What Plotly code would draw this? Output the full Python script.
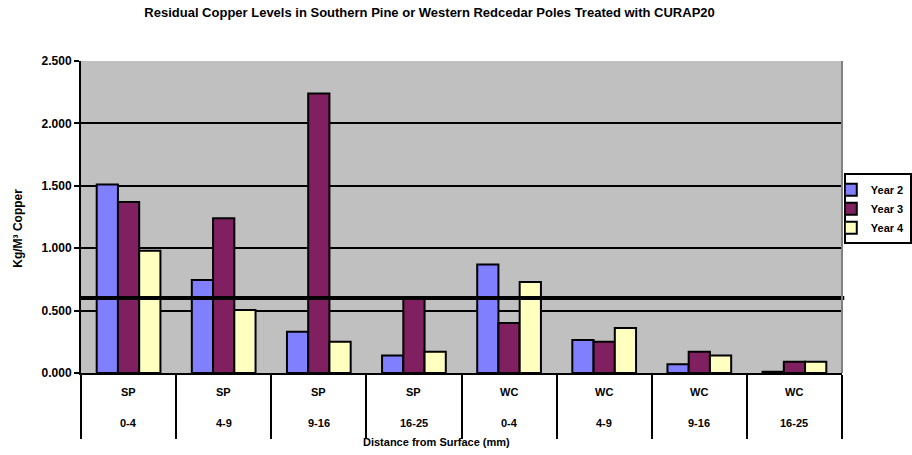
import plotly.graph_objects as go

species = ["SP", "SP", "SP", "SP", "WC", "WC", "WC", "WC"]
depths = ["0-4", "4-9", "9-16", "16-25", "0-4", "4-9", "9-16", "16-25"]
categories = [f"{s} {d}" for s, d in zip(species, depths)]

year2 = [1.51, 0.745, 0.33, 0.14, 0.87, 0.265, 0.07, 0.01]
year3 = [1.37, 1.24, 2.24, 0.60, 0.40, 0.25, 0.17, 0.09]
year4 = [0.98, 0.505, 0.25, 0.17, 0.73, 0.36, 0.14, 0.09]
threshold = 0.6

series_names = ["Year 2", "Year 3", "Year 4"]
series_values = [year2, year3, year4]
series_colors = ["#8080FF", "#802060", "#FFFFC0"]

y_ticks = [0, 0.5, 1.0, 1.5, 2.0, 2.5]

title_text = "Residual Copper Levels in Southern Pine or Western Redcedar Poles Treated with CURAP20"
x_title = "Distance from Surface (mm)"
y_title = "Kg/M\u00b3 Copper"

FONT = "Arial, Liberation Sans, sans-serif"

fig = go.Figure()
for name, vals, col in zip(series_names, series_values, series_colors):
    fig.add_trace(go.Bar(
        x=categories, y=vals, name=name,
        marker=dict(color=col, line=dict(color="black", width=2)),
    ))

fig.update_layout(
    width=912, height=455,
    margin=dict(l=81, r=70, t=61, b=82, autoexpand=False),
    paper_bgcolor="white", plot_bgcolor="#C0C0C0",
    barmode="group", bargap=0.33, bargroupgap=0,
    font=dict(family=FONT, size=11, color="black"),
    title=dict(text="<b>" + title_text + "</b>", x=0.471, xref="container",
               xanchor="center", y=0.972, yanchor="middle",
               font=dict(family=FONT, size=13, color="black")),
    showlegend=True,
    legend=dict(x=1.0917, xanchor="right", y=0.64, yanchor="top",
                bgcolor="white", bordercolor="black", borderwidth=2,
                font=dict(family=FONT, size=11, color="black", weight="bold"),
                itemwidth=30, indentation=-15),
)

fig.update_xaxes(
    type="category", categoryorder="array", categoryarray=categories,
    showticklabels=False, showgrid=False,
    ticks="outside", tickson="boundaries", ticklen=64, tickwidth=2, tickcolor="black",
    showline=True, linecolor="black", linewidth=2,
    range=[-0.5, len(categories) - 0.5],
)
fig.update_yaxes(
    range=[0, 2.5], tickvals=y_ticks, tickformat=".3f",
    showgrid=True, gridcolor="black", gridwidth=2,
    zeroline=False,
    ticks="outside", ticklen=5, tickwidth=2, tickcolor="black",
    showline=True, linecolor="black", linewidth=2,
    tickfont=dict(family=FONT, size=12, color="black", weight="bold"),
)

# threshold line
fig.add_shape(type="line", xref="paper", yref="y", x0=0, x1=1.003,
              y0=threshold, y1=threshold, line=dict(color="black", width=4))
# right border of plot area
fig.add_shape(type="line", xref="paper", yref="paper", x0=1, x1=1, y0=0, y1=1,
              line=dict(color="#808080", width=2))

annotations = []
for cat, s, d in zip(categories, species, depths):
    annotations.append(dict(x=cat, xref="x", y=-0.061, yref="paper", text="<b>" + s + "</b>",
                            showarrow=False, xanchor="center", yanchor="middle",
                            font=dict(family=FONT, size=11, color="black")))
    annotations.append(dict(x=cat, xref="x", y=-0.16, yref="paper", text="<b>" + d + "</b>",
                            showarrow=False, xanchor="center", yanchor="middle",
                            font=dict(family=FONT, size=11, color="black")))
annotations.append(dict(x=0.467, xref="paper", y=-0.221, yref="paper", text="<b>" + x_title + "</b>",
                        showarrow=False, xanchor="center", yanchor="middle",
                        font=dict(family=FONT, size=11, color="black")))
annotations.append(dict(x=-0.083, xref="paper", y=0.465, yref="paper", text="<b>" + y_title + "</b>",
                        showarrow=False, xanchor="center", yanchor="middle", textangle=-90,
                        font=dict(family=FONT, size=12, color="black")))
fig.update_layout(annotations=annotations)

fig.write_html("out.html", config={"displayModeBar": False},
               post_script="document.body.style.margin='0';")
